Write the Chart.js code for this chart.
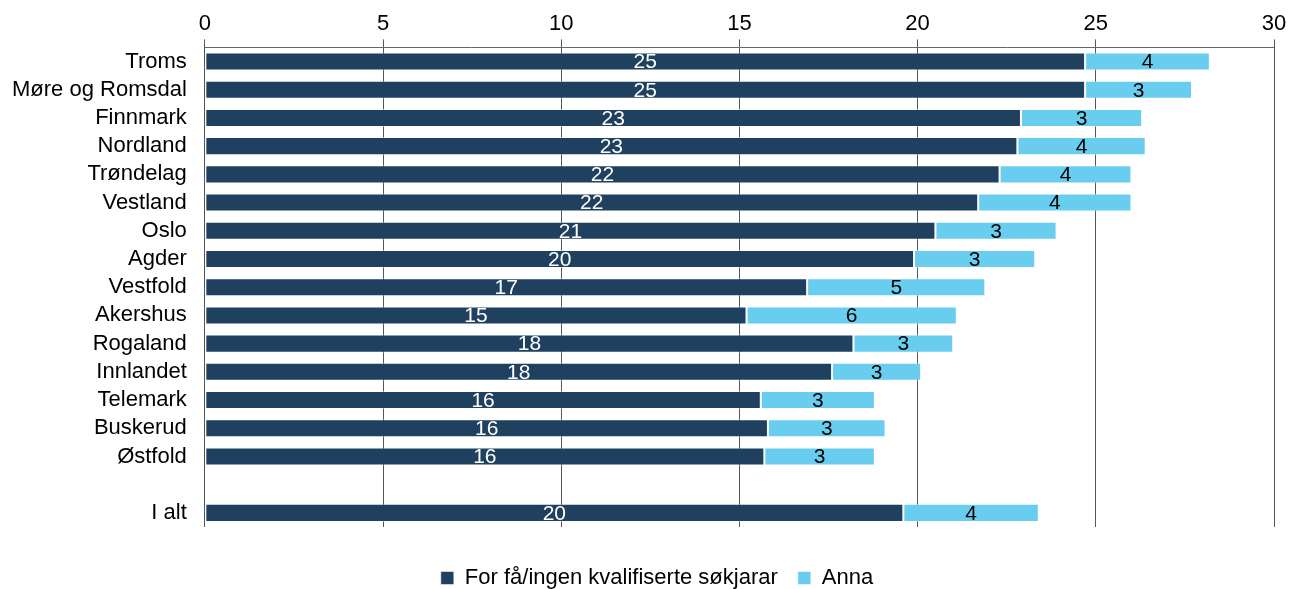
<!DOCTYPE html>
<html>
<head>
<meta charset="utf-8">
<script src="https://cdn.jsdelivr.net/npm/chart.js@4.4.0/dist/chart.umd.min.js"></script>
<style>
  html, body { margin: 0; padding: 0; background: #fff; }
  #wrap { width: 1295px; height: 589px; position: relative; }
</style>
</head>
<body>
<div id="wrap"><canvas id="chart"></canvas></div>
<script>
var regions = ['Troms', 'Møre og Romsdal', 'Finnmark', 'Nordland', 'Trøndelag', 'Vestland', 'Oslo', 'Agder',
  'Vestfold', 'Akershus', 'Rogaland', 'Innlandet', 'Telemark', 'Buskerud', 'Østfold', '', 'I alt'];
var fewQualified = [24.7, 24.7, 22.9, 22.8, 22.3, 21.7, 20.5, 19.9, 16.9, 15.2, 18.2, 17.6, 15.6, 15.8, 15.7, null, 19.6];
var other = [3.5, 3.0, 3.4, 3.6, 3.7, 4.3, 3.4, 3.4, 5.0, 5.9, 2.8, 2.5, 3.2, 3.3, 3.1, null, 3.8];
var xTicks = [0, 5, 10, 15, 20, 25, 30];

var fontFam = '"Liberation Sans", Arial, sans-serif';

// draws the value in the middle of every bar segment
var barLabels = {
  id: 'barLabels',
  afterDatasetsDraw: function (chart) {
    var ctx = chart.ctx;
    ctx.save();
    ctx.font = '21px ' + fontFam;
    ctx.textAlign = 'center';
    ctx.textBaseline = 'middle';
    chart.data.datasets.forEach(function (ds, di) {
      var meta = chart.getDatasetMeta(di);
      meta.data.forEach(function (bar, i) {
        var v = ds.data[i];
        if (v == null) return;
        var p = bar.getProps(['x', 'y', 'base'], true);
        ctx.fillStyle = di === 0 ? '#ffffff' : '#000000';
        ctx.fillText(Math.round(v), (p.x + p.base) / 2, p.y + 1);
      });
    });
    ctx.restore();
  }
};

// legend sits a bit lower and a bit right of centre
var legendShift = {
  id: 'legendShift',
  beforeInit: function (chart) {
    var lg = chart.legend;
    var fit = lg.fit;
    lg.fit = function () {
      fit.bind(lg)();
      this.height -= 10;
    };
    var draw = lg.draw;
    lg.draw = function () {
      chart.ctx.save();
      chart.ctx.translate(19, 0);
      draw.bind(lg)();
      chart.ctx.restore();
    };
  }
};

new Chart(document.getElementById('chart').getContext('2d'), {
  type: 'bar',
  data: {
    labels: regions,
    datasets: [{
      label: 'For få/ingen kvalifiserte søkjarar',
      data: fewQualified,
      backgroundColor: '#1F405F',
      borderColor: 'rgba(255,255,255,0.5)',
      borderWidth: 1,
      borderSkipped: false
    }, {
      label: 'Anna',
      data: other,
      backgroundColor: '#68CDEE',
      borderColor: 'rgba(255,255,255,0.5)',
      borderWidth: 1,
      borderSkipped: false
    }]
  },
  options: {
    indexAxis: 'y',
    responsive: true,
    maintainAspectRatio: false,
    animation: false,
    layout: { padding: { top: 9, right: 21, left: 2, bottom: 0 } },
    datasets: { bar: { categoryPercentage: 0.8, barPercentage: 0.8 } },
    scales: {
      x: {
        position: 'top',
        stacked: true,
        min: 0,
        max: 30,
        afterBuildTicks: function (axis) {
          axis.ticks = xTicks.map(function (v) { return { value: v }; });
        },
        grid: { color: '#555555', lineWidth: 1, tickLength: 8 },
        border: { color: '#666666' },
        ticks: { color: '#000', font: { family: fontFam, size: 22 }, padding: 2 }
      },
      gap: {
        position: 'bottom',
        axis: 'x',
        display: true,
        grid: { display: false },
        border: { display: false },
        ticks: { display: false },
        afterFit: function (s) { s.height = 20; }
      },
      y: {
        stacked: true,
        grid: { display: false },
        border: { display: false },
        ticks: { color: '#000', font: { family: fontFam, size: 22 }, padding: 10, autoSkip: false }
      }
    },
    plugins: {
      legend: {
        position: 'bottom',
        labels: {
          color: '#000',
          font: { family: fontFam, size: 22 },
          boxWidth: 13,
          boxHeight: 13,
          padding: 20
        }
      },
      tooltip: { enabled: false }
    }
  },
  plugins: [barLabels, legendShift]
});
</script>
</body>
</html>
